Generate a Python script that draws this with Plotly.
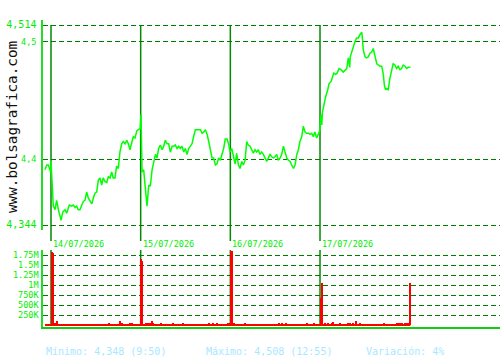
import plotly.graph_objects as go

# ---------------- data ----------------
sessions = ["13/07/2026", "14/07/2026", "15/07/2026", "16/07/2026", "17/07/2026"]
session_len = 510  # minutes 09:00-17:30

# minutes since 09:00 and prices per session
d0_min = [476, 486, 495, 500, 508]
d0_px = [4.391, 4.395, 4.395, 4.392, 4.389]

d1_min = [0, 7, 13, 23, 32, 42, 51, 57, 67, 80, 89, 104, 118, 127, 137, 146, 155, 165, 175, 184, 193, 203,
          212, 222, 232, 241, 250, 260, 269, 279, 288, 297, 307, 317, 326, 336, 345, 354, 364, 373, 383, 392,
          402, 411, 421, 431, 440, 449, 459, 468, 478, 488, 497, 507]
d1_px = [4.399, 4.381, 4.360, 4.357, 4.365, 4.357, 4.351, 4.348, 4.355, 4.357, 4.354, 4.361, 4.360, 4.361,
         4.359, 4.360, 4.357, 4.357, 4.361, 4.364, 4.365, 4.372, 4.367, 4.365, 4.362, 4.367, 4.371, 4.372,
         4.382, 4.384, 4.378, 4.384, 4.381, 4.380, 4.385, 4.384, 4.389, 4.384, 4.384, 4.394, 4.392, 4.406,
         4.413, 4.415, 4.413, 4.416, 4.413, 4.408, 4.415, 4.419, 4.418, 4.424, 4.425, 4.426]

d2_min = [2, 8, 17, 27, 36, 46, 55, 65, 74, 84, 93, 102, 112, 122, 131, 140, 150, 159, 169, 179, 188, 197,
          207, 216, 226, 235, 245, 254, 264, 273, 283, 292, 301, 311, 321, 330, 340, 349, 359, 368, 378, 387,
          396, 406, 415, 425, 434, 443, 453, 462, 472, 481, 491, 500, 509]
d2_px = [4.438, 4.389, 4.391, 4.374, 4.360, 4.378, 4.377, 4.391, 4.398, 4.404, 4.401, 4.409, 4.412, 4.408,
         4.411, 4.416, 4.413, 4.413, 4.406, 4.411, 4.411, 4.412, 4.409, 4.411, 4.409, 4.411, 4.406, 4.409,
         4.404, 4.409, 4.411, 4.413, 4.419, 4.425, 4.425, 4.425, 4.425, 4.422, 4.423, 4.425, 4.421, 4.415,
         4.408, 4.401, 4.401, 4.395, 4.396, 4.401, 4.399, 4.404, 4.409, 4.417, 4.417, 4.413, 4.406]

d3_min = [8, 17, 27, 36, 46, 55, 65, 74, 84, 93, 102, 112, 122, 131, 140, 150, 159, 169, 178, 188, 197, 207,
          216, 226, 235, 245, 254, 264, 273, 283, 292, 302, 311, 321, 330, 340, 349, 359, 368, 378, 387, 396,
          406, 415, 425, 434, 444, 453, 463, 472, 481, 491, 500, 507]
d3_px = [4.409, 4.403, 4.396, 4.405, 4.395, 4.392, 4.398, 4.395, 4.399, 4.415, 4.412, 4.411, 4.408, 4.405,
         4.408, 4.406, 4.408, 4.404, 4.406, 4.404, 4.401, 4.398, 4.401, 4.404, 4.402, 4.401, 4.402, 4.404,
         4.399, 4.401, 4.404, 4.411, 4.406, 4.401, 4.399, 4.398, 4.395, 4.392, 4.395, 4.404, 4.408, 4.415,
         4.419, 4.428, 4.423, 4.422, 4.422, 4.421, 4.422, 4.419, 4.423, 4.418, 4.421, 4.425]

d4_min = [0, 6, 10, 14, 24, 32, 44, 51, 63, 70, 78, 89, 97, 108, 119, 132, 142, 152, 161, 169, 172, 180, 189,
          199, 208, 218, 228, 237, 241, 246, 256, 265, 275, 284, 294, 303, 309, 317, 323, 332, 341, 351, 360,
          366, 373, 379, 388, 398, 407, 416, 426, 436, 445, 455, 464, 473, 483, 492, 502, 514]
d4_px = [4.425, 4.438, 4.429, 4.440, 4.449, 4.453, 4.459, 4.464, 4.466, 4.470, 4.473, 4.472, 4.473, 4.477,
         4.476, 4.474, 4.476, 4.477, 4.486, 4.478, 4.487, 4.491, 4.497, 4.500, 4.503, 4.503, 4.506, 4.508,
         4.503, 4.493, 4.487, 4.486, 4.487, 4.490, 4.491, 4.494, 4.490, 4.486, 4.481, 4.480, 4.479, 4.479,
         4.472, 4.463, 4.459, 4.460, 4.459, 4.469, 4.474, 4.481, 4.480, 4.477, 4.479, 4.476, 4.477, 4.480,
         4.479, 4.477, 4.478, 4.478]

# volume (minutes since 09:00, shares) per session
v0_min = [500]
v0_val = [20000]
v1_min = [6, 12, 23, 28, 34, 330, 394, 402, 449, 461]
v1_val = [1820000, 1790000, 55000, 50000, 110000, 30000, 110000, 30000, 30000, 30000]
v2_min = [2, 9, 28, 34, 44, 51, 63, 70, 114, 182, 239, 391, 414, 432, 495, 503]
v2_val = [1640000, 1610000, 30000, 45000, 55000, 55000, 95000, 45000, 30000, 30000, 30000, 30000, 35000,
          30000, 30000, 30000]
v3_min = [2, 10, 21, 85, 275, 294, 317, 438, 476]
v3_val = [1860000, 1840000, 30000, 30000, 30000, 30000, 40000, 30000, 30000]
v4_min = [3, 14, 28, 47, 71, 76, 114, 161, 171, 190, 207, 228, 366, 440, 449, 459, 465, 483, 493, 502, 514]
v4_val = [670000, 1040000, 55000, 30000, 40000, 75000, 30000, 30000, 30000, 30000, 95000, 30000, 30000,
          35000, 40000, 55000, 35000, 30000, 30000, 30000, 1040000]

price_ticks = [4.344, 4.4, 4.5, 4.514]
price_ticktext = ["4,344", "4,4", "4,5", "4,514"]
vol_ticks = [250000, 500000, 750000, 1000000, 1250000, 1500000, 1750000]
vol_ticktext = ["250K", "500K", "750K", "1M", "1.25M", "1.5M", "1.75M"]

footer = ["Mínimo: 4,348 (9:50)", "Máximo: 4,508 (12:55)", "Variación: 4%"]
watermark = "www.bolsagrafica.com"

# ---------------- build ----------------
price_min = [d0_min, d1_min, d2_min, d3_min, d4_min]
price_val = [d0_px, d1_px, d2_px, d3_px, d4_px]
vol_min = [v0_min, v1_min, v2_min, v3_min, v4_min]
vol_val = [v0_val, v1_val, v2_val, v3_val, v4_val]

px_x, px_y = [], []
for k, (mins, vals) in enumerate(zip(price_min, price_val)):
    px_x += [k * session_len + m for m in mins]
    px_y += vals
vx, vy = [], []
for k, (mins, vals) in enumerate(zip(vol_min, vol_val)):
    vx += [k * session_len + m for m in mins]
    vy += vals

MONO = "DejaVu Sans Mono"
H = 360.0
W = 500.0
def py(p):
    return (H - p) / H

GREEN = "#00ee00"
DARK = "#007a00"
SEP = "#008a00"

fig = go.Figure()
fig.add_trace(go.Scatter(x=px_x, y=px_y, mode="lines", line=dict(color="#00ff00", width=1.5),
                         xaxis="x", yaxis="y", hoverinfo="skip"))
fig.add_trace(go.Scatter(x=[min(vx + px_x), max(vx + px_x)], y=[0, 0], mode="lines",
                         line=dict(color="#ff0000", width=2), xaxis="x2", yaxis="y2", hoverinfo="skip"))
fig.add_trace(go.Bar(x=vx, y=vy, width=6, marker=dict(color="#ff0000", line=dict(width=0)),
                     xaxis="x2", yaxis="y2", hoverinfo="skip"))

# x range: 8px of margin before first session start, ~5.69 min per pixel
mpp = session_len / 89.67
xr = [session_len - 8 * mpp, session_len + 449 * mpp]

big = [4.344, 4.514]
ptext = [("<span style='font-size:10px'>%s</span>" % t) if v in big else
         ("<span style='font-size:8.5px'>%s</span>" % t) for v, t in zip(price_ticks, price_ticktext)]

# price axis: 0.00085 per px
p_lo = 4.344 - (230 - 225) * 0.00085
p_hi = 4.514 + (25 - 20) * 0.00085
# volume: 25000 per px, zero at py 325
v_lo = -(327 - 325) * 25000
v_hi = (325 - 250) * 25000

fig.update_layout(
    width=500, height=360, margin=dict(l=0, r=0, t=0, b=0),
    paper_bgcolor="white", plot_bgcolor="white", showlegend=False, bargap=0,
    xaxis=dict(domain=[43 / W, 1], range=xr, showgrid=False, zeroline=False, showticklabels=False,
               showline=False, anchor="y"),
    yaxis=dict(domain=[py(230), py(20)], range=[p_lo, p_hi], tickvals=price_ticks, ticktext=ptext,
               showgrid=True, gridcolor=DARK, griddash="5px,3px", gridwidth=1.3, zeroline=False,
               showline=True, linecolor="#22dd22", linewidth=1.5, ticks="", ticklabelstandoff=3,
               tickfont=dict(family=MONO, color=GREEN, size=9), anchor="x"),
    xaxis2=dict(domain=[43 / W, 1], range=xr, showgrid=False, zeroline=False, showticklabels=False,
                showline=True, linecolor="#11cc11", linewidth=2, anchor="y2"),
    yaxis2=dict(domain=[py(327), py(250)], range=[v_lo, v_hi], tickvals=vol_ticks, ticktext=vol_ticktext,
                showgrid=True, gridcolor=DARK, griddash="5px,3px", gridwidth=1.3, zeroline=False,
                showline=True, linecolor="#22dd22", linewidth=1.5, ticks="", ticklabelstandoff=1,
                tickfont=dict(family=MONO, color=GREEN, size=8.5), anchor="x2"),
)

shapes = []
annotations = []
for k in range(1, len(sessions)):
    x0 = k * session_len
    shapes.append(dict(type="line", xref="x", yref="paper", x0=x0, x1=x0, y0=py(241), y1=py(25),
                       line=dict(color=SEP, width=1.5), layer="below"))
    shapes.append(dict(type="line", xref="x", yref="paper", x0=x0, x1=x0, y0=py(325), y1=py(250),
                       line=dict(color=SEP, width=1.5), layer="below"))
    annotations.append(dict(x=x0, y=py(243.5), xref="x", yref="paper", text=sessions[k], showarrow=False,
                            xanchor="left", yanchor="middle", xshift=0,
                            font=dict(family=MONO, size=8.5, color=GREEN)))

for txt, xp in zip(footer, [44, 204, 364]):
    annotations.append(dict(x=xp / W, y=py(351), xref="paper", yref="paper", text=txt, showarrow=False,
                            xanchor="left", yanchor="middle",
                            font=dict(family=MONO, size=10, color="#a8e8ff")))

annotations.append(dict(x=12 / W, y=py(127), xref="paper", yref="paper", text=watermark, showarrow=False,
                        textangle=-90, xanchor="center", yanchor="middle",
                        font=dict(family=MONO, size=14.3, color="#111111")))

fig.update_layout(shapes=shapes, annotations=annotations)
fig.write_html("out.html")
